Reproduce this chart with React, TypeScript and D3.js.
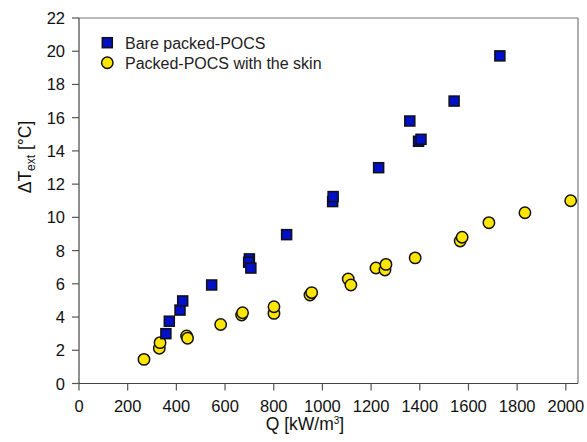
import React from "react";
import * as d3 from "d3";

const bareQ = [357, 371, 415, 426, 545, 700, 697, 706, 853, 1042, 1044, 1231, 1359, 1395, 1405, 1541, 1729];
const bareT = [3.0, 3.75, 4.42, 4.97, 5.93, 7.5, 7.3, 6.95, 8.96, 10.95, 11.25, 12.99, 15.8, 14.58, 14.7, 17.0, 19.72];

const skinQ = [267, 330, 333, 442, 446, 582, 668, 672, 801, 801, 949, 956, 1106, 1117, 1220, 1257, 1261, 1381, 1566, 1574, 1684, 1832, 2020];
const skinT = [1.45, 2.12, 2.46, 2.86, 2.72, 3.55, 4.12, 4.26, 4.22, 4.62, 5.33, 5.47, 6.29, 5.93, 6.95, 6.83, 7.17, 7.56, 8.58, 8.8, 9.68, 10.28, 11.0];

const xTicks = [0, 200, 400, 600, 800, 1000, 1200, 1400, 1600, 1800, 2000];
const yTicks = [0, 2, 4, 6, 8, 10, 12, 14, 16, 18, 20, 22];

const seriesNames = ["Bare packed-POCS", "Packed-POCS with the skin"];

const W = 587;
const H = 442;
const FONT = "'Liberation Sans', Arial, sans-serif";

export default function App() {
  const x = d3.scaleLinear().domain([0, 2050]).range([79, 578]);
  const y = d3.scaleLinear().domain([0, 22]).range([383.5, 18]);
  const [x0, x1] = x.range();
  const [y0, y1] = y.range();
  const sq = 10;
  const r = 5.7;
  const blue = "#0010c8";
  const yellow = "#ffe600";
  const edge = "#111";

  return (
    <svg
      width={W}
      height={H}
      style={{ position: "absolute", left: 0, top: 0, background: "#fff" }}
      fontFamily={FONT}
    >
      <rect x={0} y={0} width={W} height={H} fill="#fff" />
      {/* frame top/right */}
      <line x1={x0} x2={x1} y1={y1} y2={y1} stroke="#777" strokeWidth={1.2} />
      <line x1={x1} x2={x1} y1={y1} y2={y0} stroke="#777" strokeWidth={1.2} />
      {/* axes */}
      <line x1={x0} x2={x1} y1={y0} y2={y0} stroke="#444" strokeWidth={1.2} />
      <line x1={x0} x2={x0} y1={y1} y2={y0} stroke="#444" strokeWidth={1.2} />
      {xTicks.map((t) => (
        <g key={"xt" + t}>
          <line x1={x(t)} x2={x(t)} y1={y0} y2={y0 + 7} stroke="#555" strokeWidth={1.2} />
          <text x={x(t)} y={412} textAnchor="middle" fontSize={16.5} fill="#111">
            {t}
          </text>
        </g>
      ))}
      {yTicks.map((t) => (
        <g key={"yt" + t}>
          <line x1={x0 - 7} x2={x0} y1={y(t)} y2={y(t)} stroke="#555" strokeWidth={1.2} />
          <text x={65} y={y(t) + 6} textAnchor="end" fontSize={16.5} fill="#111">
            {t}
          </text>
        </g>
      ))}
      {/* axis titles */}
      <text x={305} y={430} textAnchor="middle" fontSize={17.5} fill="#111">
        Q [kW/m<tspan fontSize={10} dy={-6}>3</tspan>
        <tspan dy={6}>]</tspan>
      </text>
      <text
        transform={`translate(31,157) rotate(-90)`}
        textAnchor="middle"
        fontSize={17.5}
        fill="#111"
      >
        ΔT<tspan fontSize={12} dy={4}>ext</tspan>
        <tspan dy={-4}> [°C]</tspan>
      </text>
      {/* data */}
      {skinQ.map((q, i) => (
        <circle key={"s" + i} cx={x(q)} cy={y(skinT[i])} r={r} fill={yellow} stroke={edge} strokeWidth={1.5} />
      ))}
      {bareQ.map((q, i) => (
        <rect
          key={"b" + i}
          x={x(q) - sq / 2}
          y={y(bareT[i]) - sq / 2}
          width={sq}
          height={sq}
          fill={blue}
          stroke={edge}
          strokeWidth={1.5}
        />
      ))}
      {/* legend */}
      <rect x={107.3 - sq / 2} y={42.7 - sq / 2} width={sq} height={sq} fill={blue} stroke={edge} strokeWidth={1.5} />
      <text x={125} y={48.5} fontSize={16} fill="#222">
        {seriesNames[0]}
      </text>
      <circle cx={107.3} cy={62.7} r={r} fill={yellow} stroke={edge} strokeWidth={1.5} />
      <text x={125} y={68.5} fontSize={16} fill="#222">
        {seriesNames[1]}
      </text>
    </svg>
  );
}
